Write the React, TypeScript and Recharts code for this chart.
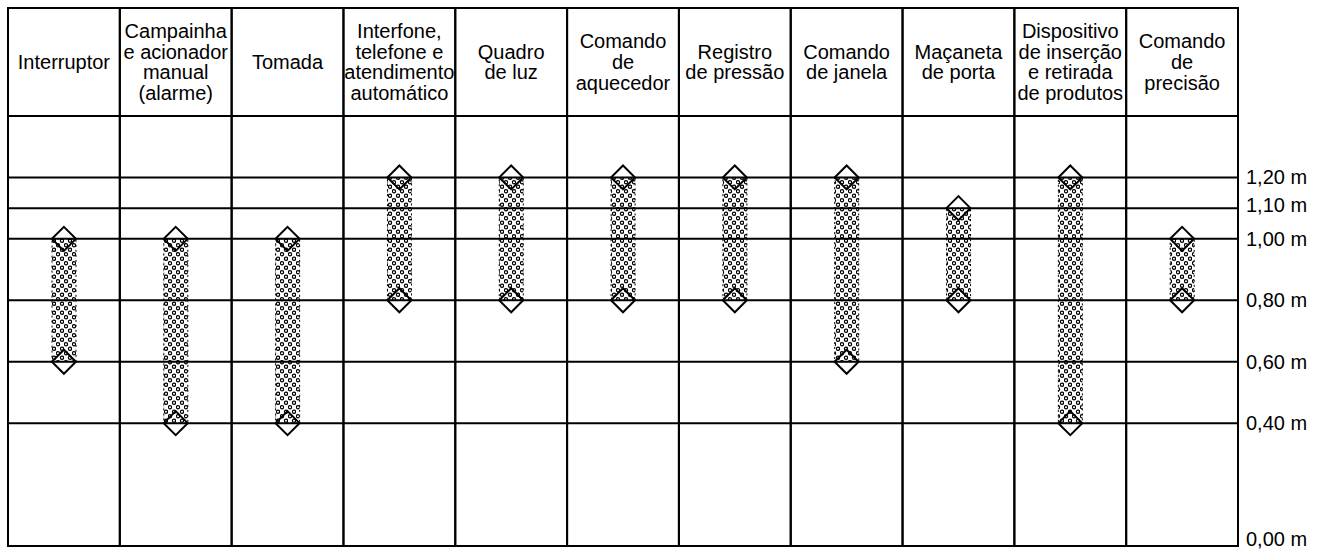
import { Bar, ComposedChart, Line, ReferenceLine, XAxis, YAxis } from "recharts";

const categories = [
  "Interruptor",
  "Campainha\ne acionador\nmanual\n(alarme)",
  "Tomada",
  "Interfone,\ntelefone e\natendimento\nautomático",
  "Quadro\nde luz",
  "Comando\nde\naquecedor",
  "Registro\nde pressão",
  "Comando\nde janela",
  "Maçaneta\nde porta",
  "Dispositivo\nde inserção\ne retirada\nde produtos",
  "Comando\nde\nprecisão",
];
const lowValues = [0.6, 0.4, 0.4, 0.8, 0.8, 0.8, 0.8, 0.6, 0.8, 0.4, 0.8];
const highValues = [1.0, 1.0, 1.0, 1.2, 1.2, 1.2, 1.2, 1.2, 1.1, 1.2, 1.0];
const heightTicks = [0, 0.4, 0.6, 0.8, 1.0, 1.1, 1.2];
const plotTop = 1.4;

const data = categories.map((name, i) => ({
  name,
  low: lowValues[i],
  high: highValues[i],
  range: [lowValues[i], highValues[i]],
}));

const FONT = '"Liberation Sans", Arial, sans-serif';
const WIDTH = 1324;
const HEIGHT = 551;
const AXIS_W = 86;
const MARGIN = { top: 8, right: 0, bottom: 5, left: 8 };
const HEADER_H = 108;
const PLOT_H = HEIGHT - MARGIN.top - MARGIN.bottom - HEADER_H;
const COL_W = (WIDTH - MARGIN.left - AXIS_W) / categories.length;
const LINE_H = 20.6;

function HeaderTick(props: any) {
  const { x, y, payload } = props;
  const lines = String(payload.value).split("\n");
  const top = y - HEADER_H;
  const mid = top + HEADER_H / 2;
  const first = mid - ((lines.length - 1) * LINE_H) / 2;
  const left = x - COL_W / 2;
  const right = x + COL_W / 2;
  return (
    <g>
      <line x1={left} x2={right} y1={top} y2={top} stroke="#000" strokeWidth={2} />
      <line x1={left} x2={left} y1={top - 1} y2={y + PLOT_H + 1} stroke="#000" strokeWidth={2} />
      <line x1={right} x2={right} y1={top - 1} y2={y + PLOT_H + 1} stroke="#000" strokeWidth={2} />
      <text textAnchor="middle" fontSize={20} fontFamily={FONT} fill="#000">
        {lines.map((l, i) => (
          <tspan key={i} x={x} y={first + i * LINE_H + 7}>
            {l}
          </tspan>
        ))}
      </text>
    </g>
  );
}

// small nudges so labels sit as in the drawing
const labelShift: Record<string, number> = { "0": -7, "1.1": -3 };

function HeightTick(props: any) {
  const { x, y, payload } = props;
  const v = Number(payload.value);
  const dy = labelShift[String(v)] ?? 0;
  return (
    <text x={x + 8} y={y + dy + 7} fontSize={20} fontFamily={FONT} fill="#000">
      {v.toFixed(2).replace(".", ",") + " m"}
    </text>
  );
}

function Diamond(props: any) {
  const { cx, cy } = props;
  if (cx == null || cy == null) return null;
  const r = 12;
  return (
    <path
      d={`M${cx},${cy - r} L${cx + r},${cy} L${cx},${cy + r} L${cx - r},${cy} Z`}
      fill="none"
      stroke="#000"
      strokeWidth={2}
    />
  );
}

export default function App() {
  return (
    <div style={{ position: "absolute", left: 0, top: 0, background: "#fff" }}>
      <ComposedChart width={WIDTH} height={HEIGHT} data={data} margin={MARGIN} barCategoryGap={0}>
        <defs>
          <pattern id="dots" width="8" height="9" patternUnits="userSpaceOnUse">
            <rect width="8" height="9" fill="#fff" />
            <circle cx="2" cy="2.25" r="1.6" fill="none" stroke="#000" strokeWidth={1.2} />
            <circle cx="6" cy="6.75" r="1.6" fill="none" stroke="#000" strokeWidth={1.2} />
          </pattern>
        </defs>
        <XAxis
          dataKey="name"
          orientation="top"
          height={HEADER_H}
          axisLine={false}
          tickLine={false}
          tickSize={0}
          tickMargin={0}
          interval={0}
          tick={<HeaderTick />}
        />
        <YAxis
          orientation="right"
          domain={[0, plotTop]}
          ticks={heightTicks}
          interval={0}
          width={AXIS_W}
          axisLine={false}
          tickLine={false}
          tickSize={0}
          tickMargin={0}
          tick={<HeightTick />}
        />
        {[...heightTicks, plotTop].map((v) => (
          <ReferenceLine key={v} y={v} stroke="#000" strokeWidth={2} />
        ))}
        <Bar
          dataKey="range"
          barSize={24}
          fill="url(#dots)"
          stroke="#000"
          strokeWidth={1}
          strokeDasharray="2 3"
          isAnimationActive={false}
        />
        <Line
          dataKey="low"
          stroke="none"
          dot={(p: any) => <Diamond key={`l${p.index}`} {...p} />}
          activeDot={false}
          isAnimationActive={false}
        />
        <Line
          dataKey="high"
          stroke="none"
          dot={(p: any) => <Diamond key={`h${p.index}`} {...p} />}
          activeDot={false}
          isAnimationActive={false}
        />
      </ComposedChart>
    </div>
  );
}
